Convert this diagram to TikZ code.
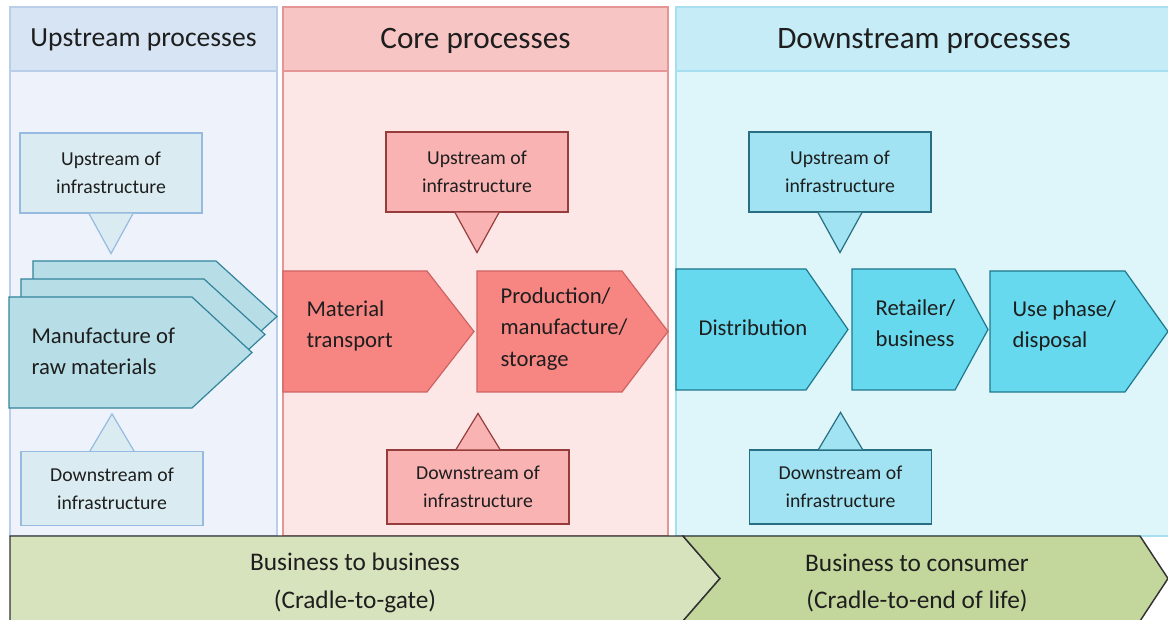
\documentclass[tikz,border=0pt]{standalone}
\usepackage{fontspec}
\setmainfont{Carlito}
\usetikzlibrary{calc}

\definecolor{inkText}{RGB}{30,30,30}
\definecolor{upHead}{RGB}{214,228,243}
\definecolor{upBody}{RGB}{238,243,251}
\definecolor{upLine}{RGB}{186,206,234}
\definecolor{upBox}{RGB}{218,236,241}
\definecolor{upBoxLine}{RGB}{150,186,224}
\definecolor{upChev}{RGB}{183,221,230}
\definecolor{upChevLine}{RGB}{49,132,155}
\definecolor{coreHead}{RGB}{247,198,196}
\definecolor{coreBody}{RGB}{253,231,230}
\definecolor{coreLine}{RGB}{228,150,150}
\definecolor{coreBox}{RGB}{249,179,179}
\definecolor{coreBoxLine}{RGB}{150,60,60}
\definecolor{coreChev}{RGB}{247,133,130}
\definecolor{coreChevLine}{RGB}{205,100,100}
\definecolor{downHead}{RGB}{197,236,247}
\definecolor{downBody}{RGB}{222,245,250}
\definecolor{downLine}{RGB}{168,223,240}
\definecolor{downBox}{RGB}{161,227,242}
\definecolor{downBoxLine}{RGB}{40,110,130}
\definecolor{downChev}{RGB}{102,217,238}
\definecolor{downChevLine}{RGB}{30,120,140}
\definecolor{btobFill}{RGB}{215,227,189}
\definecolor{btocFill}{RGB}{195,214,155}

\begin{document}
\begin{tikzpicture}[x=0.75pt,y=-0.75pt,line width=0.9pt,
  every node/.style={text=inkText},
  head text/.style={font=\fontsize{23.4}{28}\selectfont},
  info box/.style={rectangle,draw,align=center,minimum width=136.5pt,
    font=\fontsize{14.8}{21}\selectfont},
  upper box/.style={info box,minimum height=60pt},
  lower box/.style={info box,minimum height=55.5pt},
  chev text/.style={anchor=west,align=left,inner sep=0pt,
    font=\fontsize{17}{23.5}\selectfont},
  band/.style={draw=black!80,line width=1.1pt},
  band text/.style={align=center,font=\fontsize{19}{28}\selectfont}]

  \useasboundingbox (0,0) rectangle (1168,620);

  % the three columns with their title bars
  \filldraw[draw=upLine,fill=upBody] (10,7) rectangle (277,536);
  \filldraw[draw=upLine,fill=upHead] (10,7) rectangle (277,71);
  \filldraw[draw=coreLine,fill=coreBody] (283,7) rectangle (668,536);
  \filldraw[draw=coreLine,fill=coreHead] (283,7) rectangle (668,71);
  \filldraw[draw=downLine,fill=downBody] (676,7) rectangle (1172,536);
  \filldraw[draw=downLine,fill=downHead] (676,7) rectangle (1172,71);

  \node[head text,font=\fontsize{20.7}{24}\selectfont] (upTitle) at (143.5,40) {Upstream processes};
  \node[head text] (coreTitle) at (475.5,41) {Core processes};
  \node[head text] (downTitle) at (924,41) {Downstream processes};

  % upstream: stacked raw material steps
  \filldraw[draw=upChevLine,fill=upChev] (33,261) -- (216,261) -- (277,316.5) -- (216,372) -- (33,372) -- cycle;
  \filldraw[draw=upChevLine,fill=upChev] (21,279) -- (204,279) -- (265,334.5) -- (204,390) -- (21,390) -- cycle;
  \filldraw[draw=upChevLine,fill=upChev] (9,297) -- (192,297) -- (252,352.5) -- (192,408) -- (9,408) -- cycle;
  \node[chev text] (raw) at (31,351) {Manufacture of\\raw materials};

  % core steps
  \filldraw[draw=coreChevLine,fill=coreChev] (283,271) -- (427,271) -- (474,331.5) -- (427,392) -- (283,392) -- cycle;
  \filldraw[draw=coreChevLine,fill=coreChev] (477,271) -- (622,271) -- (668,331.5) -- (622,392) -- (477,392) -- cycle;
  \node[chev text] (transport) at (306,326) {Material\\transport};
  \node[chev text] (production) at (500,329) {Production/\\manufacture/\\storage};

  % downstream steps
  \filldraw[draw=downChevLine,fill=downChev] (676,269) -- (806,269) -- (848,329.5) -- (806,390) -- (676,390) -- cycle;
  \filldraw[draw=downChevLine,fill=downChev] (852,269) -- (955,269) -- (988,329.5) -- (955,390) -- (852,390) -- cycle;
  \filldraw[draw=downChevLine,fill=downChev] (990,271) -- (1125,271) -- (1168,331.5) -- (1125,392) -- (990,392) -- cycle;
  \node[chev text] (distribution) at (698,328) {Distribution};
  \node[chev text] (retailer) at (875,323) {Retailer/\\business};
  \node[chev text] (usephase) at (1012,326) {Use phase/\\disposal};

  % infrastructure callouts
  \node[upper box,draw=upBoxLine,fill=upBox] (upInfraA) at (111,173) {Upstream of\\infrastructure};
  \node[lower box,draw=upBoxLine,fill=upBox] (upInfraB) at (112,488.5) {Downstream of\\infrastructure};
  \node[upper box,draw=coreBoxLine,fill=coreBox] (coreInfraA) at (477,172) {Upstream of\\infrastructure};
  \node[lower box,draw=coreBoxLine,fill=coreBox] (coreInfraB) at (478,487) {Downstream of\\infrastructure};
  \node[upper box,draw=downBoxLine,fill=downBox] (downInfraA) at (840,172) {Upstream of\\infrastructure};
  \node[lower box,draw=downBoxLine,fill=downBox] (downInfraB) at (840.5,487) {Downstream of\\infrastructure};

  % pointers of the callouts
  \filldraw[draw=upBoxLine,fill=upBox] ($(upInfraA.south)+(-22,0)$) -- ($(upInfraA.south)+(0,40)$) -- ($(upInfraA.south)+(22,0)$);
  \filldraw[draw=upBoxLine,fill=upBox] ($(upInfraB.north)+(-22,0)$) -- ($(upInfraB.north)+(0,-37)$) -- ($(upInfraB.north)+(22,0)$);
  \filldraw[draw=coreBoxLine,fill=coreBox] ($(coreInfraA.south)+(-22,0)$) -- ($(coreInfraA.south)+(0,40)$) -- ($(coreInfraA.south)+(22,0)$);
  \filldraw[draw=coreBoxLine,fill=coreBox] ($(coreInfraB.north)+(-22,0)$) -- ($(coreInfraB.north)+(0,-36)$) -- ($(coreInfraB.north)+(22,0)$);
  \filldraw[draw=downBoxLine,fill=downBox] ($(downInfraA.south)+(-22,0)$) -- ($(downInfraA.south)+(0,40)$) -- ($(downInfraA.south)+(22,0)$);
  \filldraw[draw=downBoxLine,fill=downBox] ($(downInfraB.north)+(-22,0)$) -- ($(downInfraB.north)+(0,-37)$) -- ($(downInfraB.north)+(22,0)$);

  % business bands along the bottom
  \filldraw[band,fill=btobFill] (10,536) -- (683,536) -- (720,578.5) -- (683,621) -- (10,621) -- cycle;
  \filldraw[band,fill=btocFill] (683,536) -- (1140,536) -- (1168,578.5) -- (1140,621) -- (683,621) -- (720,578.5) -- cycle;
  \node[band text] (btob) at (355,583) {Business to business\\(Cradle-to-gate)};
  \node[band text] (btoc) at (917,583) {Business to consumer\\(Cradle-to-end of life)};

\end{tikzpicture}
\end{document}
